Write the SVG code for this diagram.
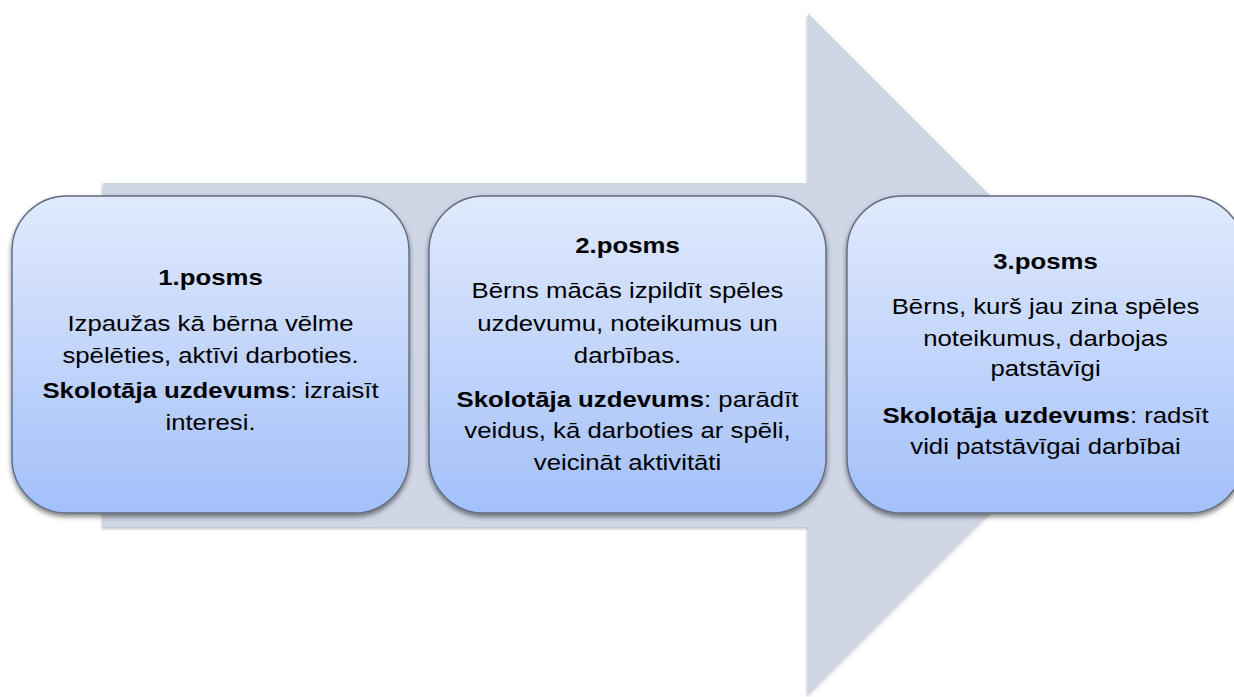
<svg xmlns="http://www.w3.org/2000/svg" width="1234" height="697" viewBox="0 0 1234 697">
<defs>
<linearGradient id="boxGrad" x1="0" y1="0" x2="0" y2="1">
<stop offset="0" stop-color="#e1eafc"/>
<stop offset="1" stop-color="#a3c0fa"/>
</linearGradient>
<filter id="arrowShadow" x="-5%" y="-5%" width="110%" height="110%">
<feDropShadow dx="-1" dy="2" stdDeviation="1.5" flood-color="#000" flood-opacity="0.25"/>
</filter>
<filter id="boxShadow" x="-5%" y="-5%" width="110%" height="115%">
<feDropShadow dx="0" dy="3" stdDeviation="2.5" flood-color="#000" flood-opacity="0.5"/>
</filter>
</defs>
<style>
.box { fill: url(#boxGrad); stroke: #5f6b7e; stroke-width: 1.4; filter: url(#boxShadow); }
.t { font-family: "Liberation Sans", Arial, sans-serif; font-size: 23px; fill: #000; text-anchor: middle; }
.b { font-weight: bold; }
</style>
<rect width="1234" height="697" fill="#ffffff"/>
<g id="arrow">
<polygon points="103,183 808,183 808,13 1149,354 808,695 808,527 103,527" fill="#cfd6e5" filter="url(#arrowShadow)"/>
</g>
<g id="connectors"></g>
<g id="node1">
<rect class="box" x="12" y="196" width="397" height="317" rx="55" ry="55"/>
<g transform="translate(210.5 0) scale(1.12 1)">
<text class="t b" x="0" y="285">1.posms</text>
<text class="t" x="0" y="331">Izpaužas kā bērna vēlme</text>
<text class="t" x="0" y="363">spēlēties, aktīvi darboties.</text>
<text class="t" x="0" y="398"><tspan class="b">Skolotāja uzdevums</tspan>: izraisīt</text>
<text class="t" x="0" y="430">interesi.</text>
</g>
</g>
<g id="node2">
<rect class="box" x="429" y="196" width="397" height="317" rx="55" ry="55"/>
<g transform="translate(627.5 0) scale(1.12 1)">
<text class="t b" x="0" y="253">2.posms</text>
<text class="t" x="0" y="298">Bērns mācās izpildīt spēles</text>
<text class="t" x="0" y="331">uzdevumu, noteikumus un</text>
<text class="t" x="0" y="363">darbības.</text>
<text class="t" x="0" y="407"><tspan class="b">Skolotāja uzdevums</tspan>: parādīt</text>
<text class="t" x="0" y="438">veidus, kā darboties ar spēli,</text>
<text class="t" x="0" y="470">veicināt aktivitāti</text>
</g>
</g>
<g id="node3">
<rect class="box" x="847" y="196" width="397" height="317" rx="55" ry="55"/>
<g transform="translate(1045.5 0) scale(1.12 1)">
<text class="t b" x="0" y="269">3.posms</text>
<text class="t" x="0" y="314">Bērns, kurš jau zina spēles</text>
<text class="t" x="0" y="346">noteikumus, darbojas</text>
<text class="t" x="0" y="376">patstāvīgi</text>
<text class="t" x="0" y="423"><tspan class="b">Skolotāja uzdevums</tspan>: radsīt</text>
<text class="t" x="0" y="454">vidi patstāvīgai darbībai</text>
</g>
</g>
</svg>
